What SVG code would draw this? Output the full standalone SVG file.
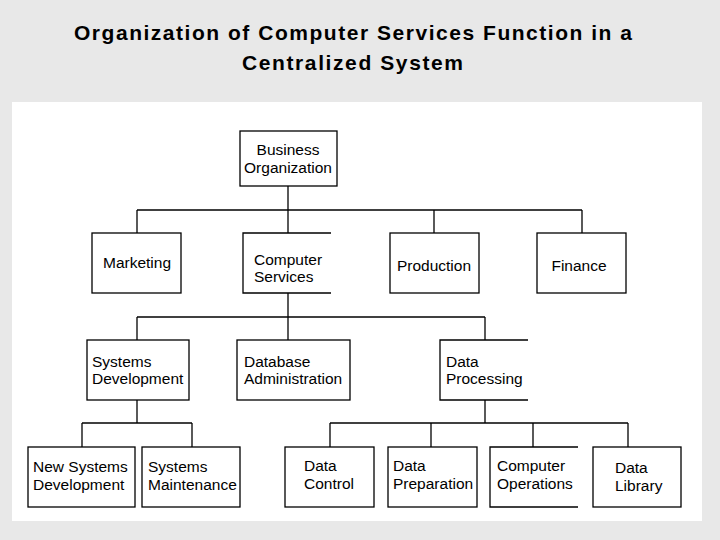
<svg xmlns="http://www.w3.org/2000/svg" width="720" height="540" viewBox="0 0 720 540">
<style>
.b{fill:#fff;stroke:#000;stroke-width:1.3}
.o{fill:none;stroke:#000;stroke-width:1.3}
text{font-family:"Liberation Sans",Arial,sans-serif;font-size:15.5px;fill:#000}
.t{font-size:21px;font-weight:bold}
#c line{stroke:#000;stroke-width:1.3}
</style>
<rect width="720" height="540" fill="#e8e8e8"/>
<rect x="12" y="102" width="690" height="419" fill="#fff"/>
<text class="t" x="74" y="40" textLength="558" lengthAdjust="spacing">Organization of Computer Services Function in a</text>
<text class="t" x="242" y="70" textLength="221" lengthAdjust="spacing">Centralized System</text>
<g id="c">
<line x1="288" y1="186" x2="288" y2="233"/>
<line x1="137" y1="210" x2="582" y2="210"/>
<line x1="137" y1="210" x2="137" y2="233"/>
<line x1="434" y1="210" x2="434" y2="233"/>
<line x1="582" y1="210" x2="582" y2="233"/>
<line x1="288" y1="293" x2="288" y2="340"/>
<line x1="137" y1="317" x2="485" y2="317"/>
<line x1="137" y1="317" x2="137" y2="340"/>
<line x1="485" y1="317" x2="485" y2="340"/>
<line x1="137" y1="400" x2="137" y2="423"/>
<line x1="82" y1="423" x2="192" y2="423"/>
<line x1="82" y1="423" x2="82" y2="447"/>
<line x1="192" y1="423" x2="192" y2="447"/>
<line x1="485" y1="400" x2="485" y2="423"/>
<line x1="330" y1="423" x2="628" y2="423"/>
<line x1="330" y1="423" x2="330" y2="447"/>
<line x1="431" y1="423" x2="431" y2="447"/>
<line x1="533" y1="423" x2="533" y2="447"/>
<line x1="628" y1="423" x2="628" y2="447"/>
</g>
<g id="business"><rect class="b" x="240" y="131" width="97" height="55"/><text x="288" y="155" text-anchor="middle">Business</text><text x="288" y="173" text-anchor="middle">Organization</text></g>
<g id="marketing"><rect class="b" x="92" y="233" width="89" height="60"/><text x="137" y="268" text-anchor="middle">Marketing</text></g>
<g id="compserv"><path class="o" d="M331 233H243V293H331"/><text x="254" y="265">Computer</text><text x="254" y="282">Services</text></g>
<g id="production"><rect class="b" x="390" y="233" width="89" height="60"/><text x="434" y="271" text-anchor="middle">Production</text></g>
<g id="finance"><rect class="b" x="537" y="233" width="89" height="60"/><text x="579" y="271" text-anchor="middle">Finance</text></g>
<g id="sysdev"><rect class="b" x="87" y="340" width="102" height="60"/><text x="92" y="367">Systems</text><text x="92" y="384">Development</text></g>
<g id="dbadmin"><rect class="b" x="237" y="340" width="113" height="60"/><text x="244" y="367">Database</text><text x="244" y="384">Administration</text></g>
<g id="dataproc"><path class="o" d="M528 340H440V400H528"/><text x="446" y="367">Data</text><text x="446" y="384">Processing</text></g>
<g id="newsys"><rect class="b" x="28" y="447" width="107" height="60"/><text x="33" y="472">New Systems</text><text x="33" y="490">Development</text></g>
<g id="sysmaint"><rect class="b" x="142" y="447" width="98" height="60"/><text x="148" y="472">Systems</text><text x="148" y="490">Maintenance</text></g>
<g id="datacontrol"><rect class="b" x="285" y="447" width="89" height="60"/><text x="304" y="471">Data</text><text x="304" y="489">Control</text></g>
<g id="dataprep"><rect class="b" x="388" y="447" width="89" height="60"/><text x="393" y="471">Data</text><text x="393" y="489">Preparation</text></g>
<g id="compops"><path class="o" d="M578 447H490V507H578"/><text x="497" y="471">Computer</text><text x="497" y="489">Operations</text></g>
<g id="datalib"><rect class="b" x="593" y="447" width="88" height="60"/><text x="615" y="473">Data</text><text x="615" y="491">Library</text></g>
</svg>
